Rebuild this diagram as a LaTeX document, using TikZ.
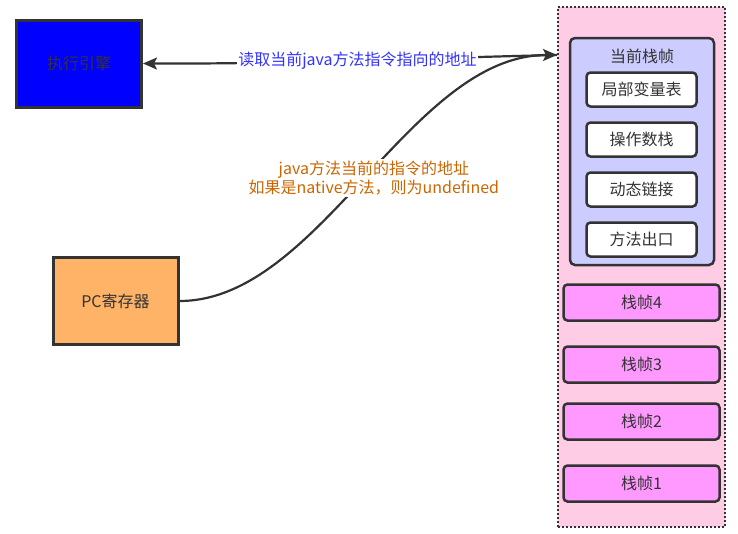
\documentclass[tikz,border=0pt]{standalone}
\usepackage{fontspec}
\setmainfont{Noto Sans CJK SC}
\usetikzlibrary{arrows.meta}
\definecolor{edgegray}{RGB}{51,51,51}
\definecolor{engineblue}{RGB}{0,0,255}
\definecolor{pcorange}{RGB}{255,179,102}
\definecolor{stackpink}{RGB}{255,204,230}
\definecolor{framelilac}{RGB}{204,204,255}
\definecolor{oldframe}{RGB}{255,153,255}
\definecolor{readblue}{RGB}{51,51,255}
\definecolor{noteorange}{RGB}{204,102,0}
\begin{document}
\begin{tikzpicture}[x=1pt,y=-1pt,
    every node/.style={font=\fontsize{16}{19}\selectfont, text=edgegray},
    bigbox/.style={draw=edgegray, line width=3pt, minimum width=125pt, minimum height=87pt},
    slot/.style={draw=edgegray, line width=2.5pt, rounded corners=4pt, fill=white,
      minimum width=110pt, minimum height=34pt},
    oldslot/.style={draw=edgegray, line width=2.5pt, rounded corners=4pt, fill=oldframe,
      minimum width=156pt, minimum height=36pt},
    link/.style={draw=edgegray, line width=2.2pt,
      -{Stealth[length=14pt,width=12pt,inset=3pt]}}]
  \useasboundingbox (0,0) rectangle (738,533);
  % left side
  \node[bigbox, fill=engineblue] (engine) at (79,63.5) {执行引擎};
  \node[bigbox, fill=pcorange] (pc) at (115.5,301) {PC寄存器};
  % thread stack
  \node[draw=edgegray, line width=2pt, dash pattern=on 2pt off 2pt, fill=stackpink,
    minimum width=167pt, minimum height=520pt] (stack) at (641.5,267) {};
  \node[draw=edgegray, line width=2.5pt, rounded corners=5pt, fill=framelilac,
    minimum width=144pt, minimum height=227pt] (current) at (642,151.5) {};
  \node (curtitle) at (642,56) {当前栈帧};
  \node[slot] (locals) at (641.5,89.5) {局部变量表};
  \node[slot] (opstack) at (641.5,139.5) {操作数栈};
  \node[slot] (dynlink) at (641.5,189.5) {动态链接};
  \node[slot] (retaddr) at (641.5,239.5) {方法出口};
  \node[oldslot] (frame4) at (641.5,302.5) {栈帧4};
  \node[oldslot] (frame3) at (641.5,364.5) {栈帧3};
  \node[oldslot] (frame2) at (641.5,421.5) {栈帧2};
  \node[oldslot] (frame1) at (641.5,483.5) {栈帧1};
  \coordinate (entry) at (557,55);
  % connectors
  \draw[link] (entry) .. controls (420,58) and (300,64) ..
    node[fill=white, inner sep=1pt, text=readblue] (readnote) {读取当前java方法指令指向的地址}
    (engine.east);
  \draw[link] (pc.east) .. controls (320,301) and (410,55) ..
    node[fill=white, inner sep=2pt, xshift=8pt, align=center, text=noteorange] (addrnote)
    {java方法当前的指令的地址\\如果是native方法，则为undefined}
    (entry);
\end{tikzpicture}
\end{document}
